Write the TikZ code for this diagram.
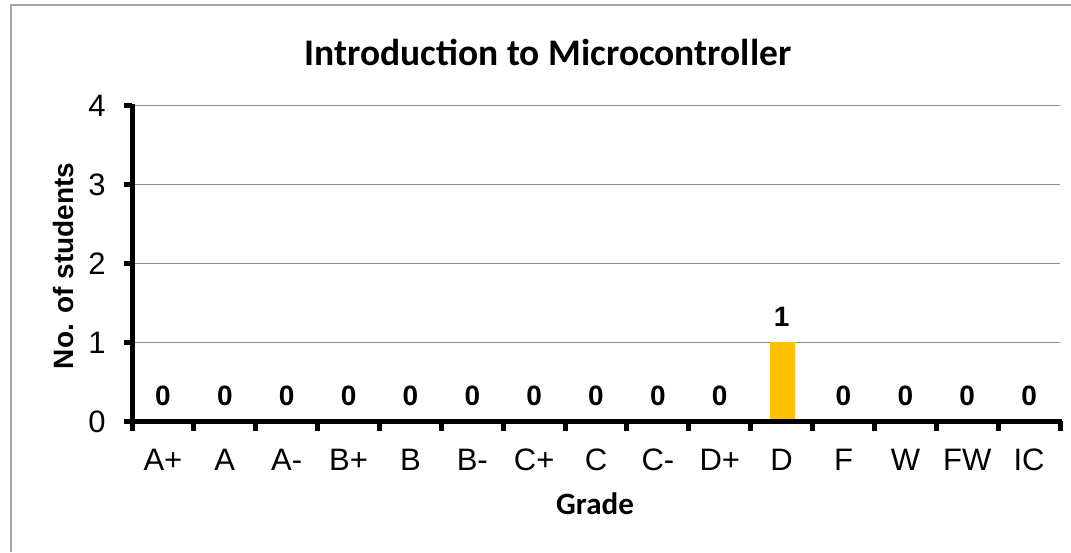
\documentclass[tikz,border=0pt]{standalone}
\usepackage{fontspec}
\newfontfamily\arial{Liberation Sans}
\newfontfamily\calibri{Carlito}
\definecolor{gridgray}{HTML}{8C8C8C}
\definecolor{framegray}{HTML}{A6A6A6}
\definecolor{bargold}{HTML}{FFC000}
\begin{document}
\begin{tikzpicture}[x=1pt,y=-1pt,
  catlab/.style={font=\arial\fontsize{31}{36}\selectfont, inner sep=0pt},
  ticklab/.style={font=\arial\fontsize{31}{36}\selectfont, inner sep=0pt},
  vallab/.style={font=\arial\bfseries\fontsize{28}{33}\selectfont, inner sep=0pt},
  axisline/.style={line width=5pt, black},
  gridline/.style={line width=1pt, gridgray},
  tickmark/.style={line width=5pt, black}]
\useasboundingbox (0,0) rectangle (1071,552);
\fill[white] (0,0) rectangle (1071,552);
% chart frame
\draw[framegray, line width=2pt] (10.5,552) -- (10.5,5) -- (1071,5);
% gridlines
\foreach \v in {1,2,3,4} {
  \draw[gridline] (132,{421-79*\v}) -- (1060,{421-79*\v});
}
% bar
\fill[bargold] (770,342) rectangle (795,421);
% axes
\draw[axisline] (132,421) -- (132,104);
\draw[axisline] (130,421) -- (1062,421);
% y ticks and labels
\foreach \v in {0,1,2,3,4} {
  \draw[tickmark] (124,{421-79*\v}) -- (132,{421-79*\v});
  \node[ticklab] (yl\v) at (97,{422-79*\v}) {\v};
}
% x ticks
\foreach \k in {0,...,15} {
  \draw[tickmark] ({132+61.87*\k},421) -- ({132+61.87*\k},431);
}
% category and value labels
\foreach \g [count=\i from 0] in {A+,A,A-,B+,B,B-,C+,C,C-,D+,D,F,W,FW,IC} {
  \node[catlab] (c\i) at ({132+61.87*(\i+0.5)},460) {\g};
}
\foreach \i in {0,...,9,11,12,13,14} {
  \node[vallab] (v\i) at ({132+61.87*(\i+0.5)},396) {0};
}
\node[vallab] (v10) at ({132+61.87*10.5},317) {1};
% titles
\node[font=\calibri\bfseries\fontsize{37.5}{44}\selectfont, inner sep=0pt] (title) at (548,52) {Introduction to Microcontroller};
\node[font=\calibri\bfseries\fontsize{31}{36}\selectfont, inner sep=0pt] (xtitle) at (595,504) {Grade};
\node[font=\arial\bfseries\fontsize{28}{33}\selectfont, inner sep=0pt, rotate=90] (ytitle) at (63,266) {No. of students};
\end{tikzpicture}
\end{document}
